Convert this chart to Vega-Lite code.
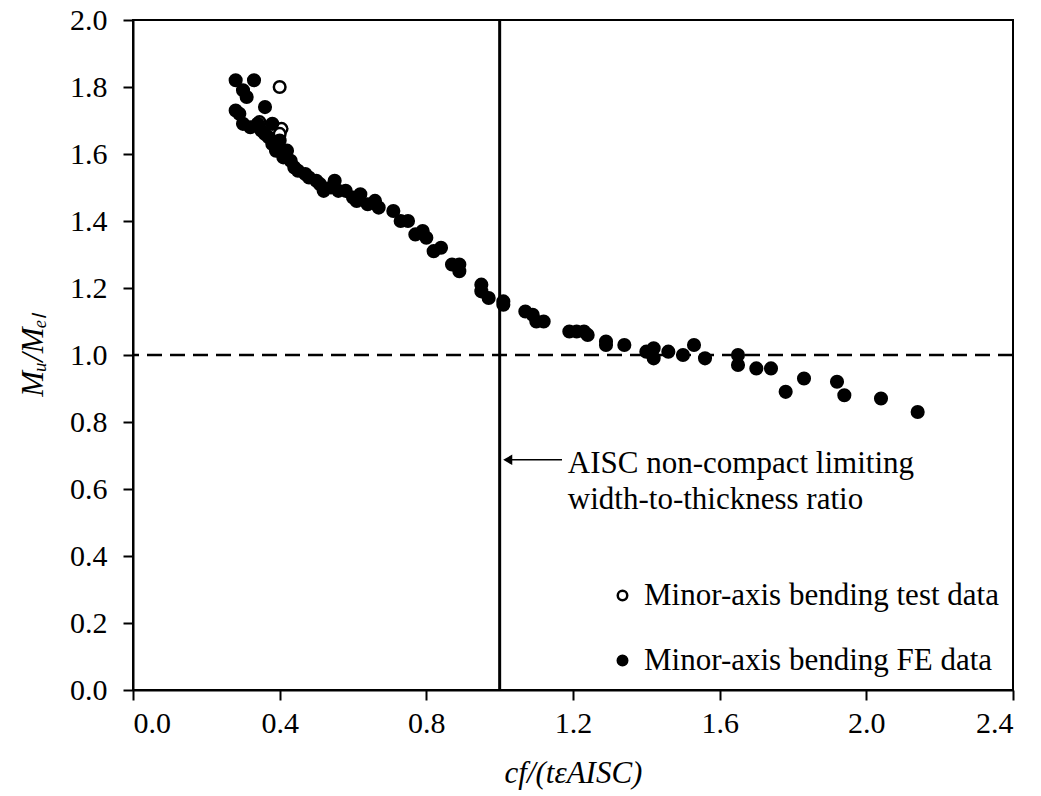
{
  "$schema": "https://vega.github.io/schema/vega-lite/v6.json",
  "width": 880,
  "height": 670,
  "autosize": {"type": "none"},
  "padding": {"left": 133, "top": 20, "right": 28, "bottom": 106},
  "background": "white",
  "config": {
    "font": "Liberation Serif",
    "view": {"stroke": "black", "strokeWidth": 2},
    "axis": {
      "labelFont": "Liberation Serif",
      "titleFont": "Liberation Serif",
      "labelFontSize": 30,
      "titleFontSize": 31,
      "titleFontStyle": "italic",
      "titleFontWeight": "normal",
      "labelColor": "black",
      "titleColor": "black",
      "domainColor": "black",
      "domainWidth": 2,
      "tickColor": "black",
      "tickWidth": 2,
      "tickSize": 10,
      "grid": false
    },
    "legend": {
      "labelFont": "Liberation Serif",
      "labelFontSize": 31,
      "labelColor": "black",
      "labelLimit": 600
    }
  },
  "layer": [
    {
      "data": {"values": [{"c": 1.0}]},
      "mark": {"type": "rule", "color": "black", "strokeWidth": 3},
      "encoding": {
        "x": {"field": "c", "type": "quantitative", "scale": {"domain": [0, 2.4], "nice": false}}
      }
    },
    {
      "data": {"values": [{"m": 1.0}]},
      "mark": {"type": "rule", "color": "black", "strokeWidth": 2.5, "strokeDash": [15, 8]},
      "encoding": {
        "y": {"field": "m", "type": "quantitative", "scale": {"domain": [0, 2], "nice": false}}
      }
    },
    {
      "data": {"values": [
        {"c": 0.40, "m": 1.80, "series": "Minor-axis bending test data"},
        {"c": 0.405, "m": 1.675, "series": "Minor-axis bending test data"},
        {"c": 0.40, "m": 1.66, "series": "Minor-axis bending test data"},
        {"c": 0.345, "m": 1.695, "series": "Minor-axis bending test data"},
        {"c": 0.28, "m": 1.82, "series": "Minor-axis bending FE data"},
        {"c": 0.33, "m": 1.82, "series": "Minor-axis bending FE data"},
        {"c": 0.30, "m": 1.79, "series": "Minor-axis bending FE data"},
        {"c": 0.31, "m": 1.77, "series": "Minor-axis bending FE data"},
        {"c": 0.36, "m": 1.74, "series": "Minor-axis bending FE data"},
        {"c": 0.28, "m": 1.73, "series": "Minor-axis bending FE data"},
        {"c": 0.29, "m": 1.72, "series": "Minor-axis bending FE data"},
        {"c": 0.30, "m": 1.69, "series": "Minor-axis bending FE data"},
        {"c": 0.32, "m": 1.68, "series": "Minor-axis bending FE data"},
        {"c": 0.34, "m": 1.69, "series": "Minor-axis bending FE data"},
        {"c": 0.35, "m": 1.67, "series": "Minor-axis bending FE data"},
        {"c": 0.36, "m": 1.66, "series": "Minor-axis bending FE data"},
        {"c": 0.37, "m": 1.65, "series": "Minor-axis bending FE data"},
        {"c": 0.38, "m": 1.69, "series": "Minor-axis bending FE data"},
        {"c": 0.38, "m": 1.63, "series": "Minor-axis bending FE data"},
        {"c": 0.39, "m": 1.61, "series": "Minor-axis bending FE data"},
        {"c": 0.40, "m": 1.64, "series": "Minor-axis bending FE data"},
        {"c": 0.41, "m": 1.59, "series": "Minor-axis bending FE data"},
        {"c": 0.42, "m": 1.61, "series": "Minor-axis bending FE data"},
        {"c": 0.43, "m": 1.58, "series": "Minor-axis bending FE data"},
        {"c": 0.44, "m": 1.56, "series": "Minor-axis bending FE data"},
        {"c": 0.45, "m": 1.55, "series": "Minor-axis bending FE data"},
        {"c": 0.47, "m": 1.54, "series": "Minor-axis bending FE data"},
        {"c": 0.48, "m": 1.53, "series": "Minor-axis bending FE data"},
        {"c": 0.50, "m": 1.52, "series": "Minor-axis bending FE data"},
        {"c": 0.51, "m": 1.51, "series": "Minor-axis bending FE data"},
        {"c": 0.52, "m": 1.49, "series": "Minor-axis bending FE data"},
        {"c": 0.54, "m": 1.50, "series": "Minor-axis bending FE data"},
        {"c": 0.55, "m": 1.52, "series": "Minor-axis bending FE data"},
        {"c": 0.56, "m": 1.49, "series": "Minor-axis bending FE data"},
        {"c": 0.58, "m": 1.49, "series": "Minor-axis bending FE data"},
        {"c": 0.60, "m": 1.47, "series": "Minor-axis bending FE data"},
        {"c": 0.61, "m": 1.46, "series": "Minor-axis bending FE data"},
        {"c": 0.62, "m": 1.48, "series": "Minor-axis bending FE data"},
        {"c": 0.64, "m": 1.45, "series": "Minor-axis bending FE data"},
        {"c": 0.66, "m": 1.46, "series": "Minor-axis bending FE data"},
        {"c": 0.67, "m": 1.44, "series": "Minor-axis bending FE data"},
        {"c": 0.71, "m": 1.43, "series": "Minor-axis bending FE data"},
        {"c": 0.73, "m": 1.40, "series": "Minor-axis bending FE data"},
        {"c": 0.75, "m": 1.40, "series": "Minor-axis bending FE data"},
        {"c": 0.77, "m": 1.36, "series": "Minor-axis bending FE data"},
        {"c": 0.79, "m": 1.37, "series": "Minor-axis bending FE data"},
        {"c": 0.80, "m": 1.35, "series": "Minor-axis bending FE data"},
        {"c": 0.82, "m": 1.31, "series": "Minor-axis bending FE data"},
        {"c": 0.84, "m": 1.32, "series": "Minor-axis bending FE data"},
        {"c": 0.87, "m": 1.27, "series": "Minor-axis bending FE data"},
        {"c": 0.89, "m": 1.27, "series": "Minor-axis bending FE data"},
        {"c": 0.89, "m": 1.25, "series": "Minor-axis bending FE data"},
        {"c": 0.95, "m": 1.21, "series": "Minor-axis bending FE data"},
        {"c": 0.95, "m": 1.19, "series": "Minor-axis bending FE data"},
        {"c": 0.97, "m": 1.17, "series": "Minor-axis bending FE data"},
        {"c": 1.01, "m": 1.16, "series": "Minor-axis bending FE data"},
        {"c": 1.01, "m": 1.15, "series": "Minor-axis bending FE data"},
        {"c": 1.07, "m": 1.13, "series": "Minor-axis bending FE data"},
        {"c": 1.09, "m": 1.12, "series": "Minor-axis bending FE data"},
        {"c": 1.10, "m": 1.10, "series": "Minor-axis bending FE data"},
        {"c": 1.12, "m": 1.10, "series": "Minor-axis bending FE data"},
        {"c": 1.19, "m": 1.07, "series": "Minor-axis bending FE data"},
        {"c": 1.21, "m": 1.07, "series": "Minor-axis bending FE data"},
        {"c": 1.23, "m": 1.07, "series": "Minor-axis bending FE data"},
        {"c": 1.24, "m": 1.06, "series": "Minor-axis bending FE data"},
        {"c": 1.29, "m": 1.03, "series": "Minor-axis bending FE data"},
        {"c": 1.29, "m": 1.04, "series": "Minor-axis bending FE data"},
        {"c": 1.34, "m": 1.03, "series": "Minor-axis bending FE data"},
        {"c": 1.40, "m": 1.01, "series": "Minor-axis bending FE data"},
        {"c": 1.42, "m": 1.02, "series": "Minor-axis bending FE data"},
        {"c": 1.42, "m": 0.99, "series": "Minor-axis bending FE data"},
        {"c": 1.46, "m": 1.01, "series": "Minor-axis bending FE data"},
        {"c": 1.50, "m": 1.00, "series": "Minor-axis bending FE data"},
        {"c": 1.53, "m": 1.03, "series": "Minor-axis bending FE data"},
        {"c": 1.56, "m": 0.99, "series": "Minor-axis bending FE data"},
        {"c": 1.65, "m": 1.00, "series": "Minor-axis bending FE data"},
        {"c": 1.65, "m": 0.97, "series": "Minor-axis bending FE data"},
        {"c": 1.70, "m": 0.96, "series": "Minor-axis bending FE data"},
        {"c": 1.74, "m": 0.96, "series": "Minor-axis bending FE data"},
        {"c": 1.78, "m": 0.89, "series": "Minor-axis bending FE data"},
        {"c": 1.83, "m": 0.93, "series": "Minor-axis bending FE data"},
        {"c": 1.92, "m": 0.92, "series": "Minor-axis bending FE data"},
        {"c": 1.94, "m": 0.88, "series": "Minor-axis bending FE data"},
        {"c": 2.04, "m": 0.87, "series": "Minor-axis bending FE data"},
        {"c": 2.14, "m": 0.83, "series": "Minor-axis bending FE data"}
      ]},
      "mark": {"type": "point", "filled": true, "stroke": "black", "strokeWidth": 2.5, "size": 135, "opacity": 1},
      "encoding": {
        "x": {"field": "c", "type": "quantitative",
              "scale": {"domain": [0, 2.4], "nice": false},
              "axis": {"values": [0, 0.4, 0.8, 1.2, 1.6, 2.0, 2.4], "format": ".1f", "title": "cf/(tεAISC)", "labelPadding": 8, "titlePadding": 20}},
        "y": {"field": "m", "type": "quantitative",
              "scale": {"domain": [0, 2], "nice": false},
              "axis": {"values": [0, 0.2, 0.4, 0.6, 0.8, 1.0, 1.2, 1.4, 1.6, 1.8, 2.0], "format": ".1f", "title": "Mᵤ/Mₑₗ", "labelPadding": 16, "titlePadding": 20}},
        "fill": {"field": "series", "type": "nominal",
                 "scale": {"domain": ["Minor-axis bending test data", "Minor-axis bending FE data"], "range": ["white", "black"]},
                 "legend": {"title": null, "orient": "bottom-right", "offset": 14, "rowPadding": 33, "symbolSize": 90, "symbolStrokeColor": "black", "symbolStrokeWidth": 2.5, "labelOffset": 6, "padding": 0}}
      }
    },
    {
      "data": {"values": [{"c": 1.015, "c2": 1.17, "m": 0.687}]},
      "mark": {"type": "rule", "color": "black", "strokeWidth": 1.5},
      "encoding": {
        "x": {"field": "c", "type": "quantitative"},
        "x2": {"field": "c2"},
        "y": {"field": "m", "type": "quantitative"}
      }
    },
    {
      "data": {"values": [{"c": 1.022, "m": 0.687}]},
      "mark": {"type": "point", "shape": "triangle-left", "filled": true, "color": "black", "size": 110, "opacity": 1},
      "encoding": {
        "x": {"field": "c", "type": "quantitative"},
        "y": {"field": "m", "type": "quantitative"}
      }
    },
    {
      "data": {"values": [{"c": 1.186, "m": 0.687, "label": ["AISC non-compact limiting", "width-to-thickness ratio"]}]},
      "mark": {"type": "text", "align": "left", "baseline": "middle", "font": "Liberation Serif", "fontSize": 31, "lineHeight": 36, "color": "black", "dy": 4},
      "encoding": {
        "x": {"field": "c", "type": "quantitative"},
        "y": {"field": "m", "type": "quantitative"},
        "text": {"field": "label"}
      }
    }
  ]
}
